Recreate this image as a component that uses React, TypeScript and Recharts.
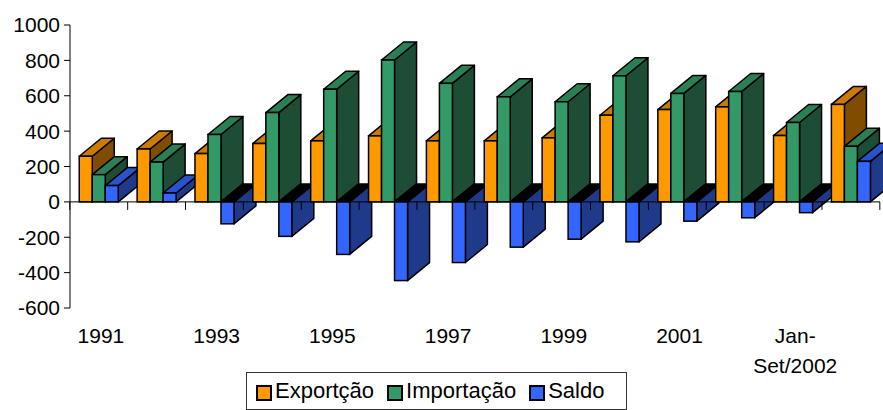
import React from 'react';
import { BarChart, Bar, XAxis, YAxis, ReferenceLine, Legend } from 'recharts';

const YEARS = [
  '1991', '1992', '1993', '1994', '1995', '1996', '1997',
  '1998', '1999', '2000', '2001', '2002', 'Jan-Set/2002', 'Jan-Set/2003'
];
const EXPORTACAO = [258, 299, 273, 330, 345, 373, 345, 345, 362, 490, 522, 537, 375, 551];
const IMPORTACAO = [154, 225, 381, 505, 637, 802, 670, 594, 566, 713, 613, 624, 449, 314];
const SALDO = [92, 50, -124, -195, -297, -445, -343, -256, -211, -226, -109, -90, -61, 229];
const Y_TICKS = [-600, -400, -200, 0, 200, 400, 600, 800, 1000];

const SERIES = [
  { key: 'exportacao', name: 'Exportção', front: '#FF9900', top: '#CC7A00', side: '#7F4C00' },
  { key: 'importacao', name: 'Importação', front: '#339966', top: '#2A7F55', side: '#1E4D35' },
  { key: 'saldo', name: 'Saldo', front: '#3366FF', top: '#2952CC', side: '#1F3A8A' },
];

const data = YEARS.map((year, i) => ({
  year,
  exportacao: EXPORTACAO[i],
  importacao: IMPORTACAO[i],
  saldo: SALDO[i],
}));

const W = 883;
const H = 410;
const Y_AXIS_W = 70;
const RIGHT = 3;
const BAND = (W - Y_AXIS_W - RIGHT) / YEARS.length;
// depth of the fake 3D extrusion
const DX = 22;
const DY = -18;
const FONT = '"Liberation Sans", Arial, sans-serif';

type Series = (typeof SERIES)[number];

const edges = (p: any) => {
  const top = Math.min(p.y, p.y + p.height);
  const bottom = Math.max(p.y, p.y + p.height);
  return { x: p.x, w: p.width, top, bottom };
};

const pts = (a: number[][]) => a.map(([x, y]) => `${x},${y}`).join(' ');

// side + top faces, drawn in a first pass so every front face covers them
const backShape = (s: Series) => (p: any) => {
  const { x, w, top, bottom } = edges(p);
  const neg = p.payload[s.key] < 0;
  const r = x + w;
  return (
    <g stroke="#000" strokeWidth={1.5} strokeLinejoin="round">
      <polygon
        points={pts([[r, top], [r + DX, top + DY], [r + DX, bottom + DY], [r, bottom]])}
        fill={s.side}
      />
      <polygon
        points={pts([[x, top], [r, top], [r + DX, top + DY], [x + DX, top + DY]])}
        fill={neg ? '#000' : s.top}
      />
    </g>
  );
};

const frontShape = (s: Series, ticks: boolean) => (p: any) => {
  const { x, w, top, bottom } = edges(p);
  const gap = (BAND - 3 * w) / 2;
  const tx = x - gap;
  return (
    <g>
      <rect x={x} y={top} width={w} height={bottom - top} fill={s.front} stroke="#000" strokeWidth={1.5} />
      {ticks && <line x1={tx} y1={bottom} x2={tx} y2={bottom + 8} stroke="#000" />}
      {ticks && p.index === YEARS.length - 1 && (
        <line x1={tx + BAND} y1={bottom} x2={tx + BAND} y2={bottom + 8} stroke="#000" />
      )}
    </g>
  );
};

const CategoryTick = (props: any) => {
  const { x, y, payload, index } = props;
  if (index % 2 !== 0) return <g />;
  const label: string = payload.value;
  const cut = label.indexOf('-');
  const lines = cut >= 0 ? [label.slice(0, cut + 1), label.slice(cut + 1)] : [label];
  return (
    <text x={x + 2} y={y} textAnchor="middle" fontSize={21} fill="#000" fontFamily={FONT}>
      {lines.map((l, i) => (
        <tspan key={i} x={x + 2} dy={i === 0 ? 5 : 30}>{l}</tspan>
      ))}
    </text>
  );
};

const renderLegend = () => (
  <div
    style={{
      boxSizing: 'border-box',
      width: 381,
      height: 38,
      border: '1px solid #333',
      display: 'flex',
      alignItems: 'center',
      paddingLeft: 9,
      fontFamily: FONT,
      fontSize: 22,
      color: '#000',
      background: '#fff',
    }}
  >
    {SERIES.map((s) => (
      <div key={s.key} style={{ display: 'flex', alignItems: 'center', marginRight: 13 }}>
        <span
          style={{
            boxSizing: 'border-box',
            width: 16,
            height: 16,
            marginTop: 4,
            background: s.front,
            border: '2px solid #000',
            marginRight: 3,
          }}
        />
        <span>{s.name}</span>
      </div>
    ))}
  </div>
);

export default function App() {
  return (
    <div style={{ position: 'absolute', left: 0, top: 0, background: '#fff', fontFamily: FONT }}>
      <BarChart
        width={W}
        height={H}
        data={data}
        margin={{ top: 25, right: RIGHT, left: 0, bottom: 0 }}
        barCategoryGap="16%"
        barGap={0}
      >
        <XAxis xAxisId="back" dataKey="year" hide />
        <XAxis
          xAxisId="front"
          dataKey="year"
          height={64}
          axisLine={false}
          tickLine={false}
          tickSize={0}
          tickMargin={0}
          interval={0}
          tick={<CategoryTick />}
        />
        <YAxis
          width={70}
          domain={[-600, 1000]}
          ticks={Y_TICKS}
          interval={0}
          stroke="#000"
          tickSize={6}
          tickMargin={4}
          tick={{ fill: '#000', fontSize: 21, fontFamily: FONT }}
        />
        <ReferenceLine xAxisId="front" y={0} stroke="#000" />
        {SERIES.map((s) => (
          <Bar
            key={`b-${s.key}`}
            xAxisId="back"
            dataKey={s.key}
            legendType="none"
            shape={backShape(s)}
            isAnimationActive={false}
          />
        ))}
        {SERIES.map((s, i) => (
          <Bar
            key={`f-${s.key}`}
            xAxisId="front"
            dataKey={s.key}
            name={s.name}
            fill={s.front}
            shape={frontShape(s, i === 0)}
            isAnimationActive={false}
          />
        ))}
        <Legend verticalAlign="bottom" wrapperStyle={{ left: 246, width: 381, bottom: 0 }} content={renderLegend} />
      </BarChart>
    </div>
  );
}
